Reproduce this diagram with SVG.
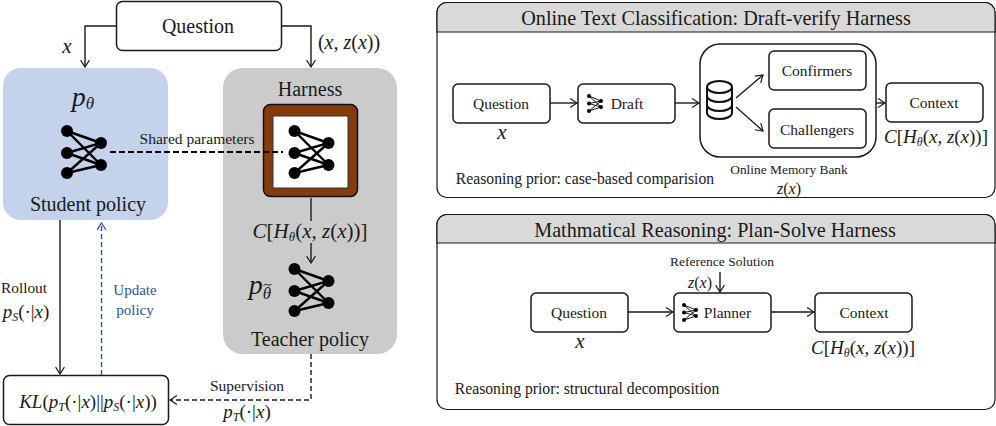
<svg xmlns="http://www.w3.org/2000/svg" width="996" height="426" viewBox="0 0 996 426">
<style>
text{font-family:"Liberation Serif","Times New Roman",serif;fill:#1a1a1a;text-anchor:middle}
.m{font-style:italic}
.u{font-style:normal}
.b{fill:#fff;stroke:#1a1a1a;stroke-width:1.5}
.c{fill:none;stroke:#1a1a1a;stroke-width:1.4}
.t20{font-size:20px}
.t15{font-size:15.500px}
.t14{font-size:15.500px}
.n circle{fill:#000}
.n path{fill:none;stroke:#000;stroke-width:2.4}
.i circle{fill:#000}
.i path{fill:none;stroke:#000;stroke-width:.9}
</style>
<defs>
<marker id="a" viewBox="0 0 12 12" refX="10.5" refY="6" markerWidth="11" markerHeight="11" markerUnits="userSpaceOnUse" orient="auto"><path d="M3 1.2L10.5 6L3 10.8" fill="none" stroke="#1a1a1a" stroke-width="1.3"/></marker>
<marker id="ab" viewBox="0 0 12 12" refX="10.5" refY="6" markerWidth="11" markerHeight="11" markerUnits="userSpaceOnUse" orient="auto"><path d="M3 1.2L10.5 6L3 10.8" fill="none" stroke="#2F5597" stroke-width="1.3"/></marker>
<g id="net" class="n">
<path d="M0 0L34 12L0 22M0 0L34 34M0 22L34 34M0 42L34 12M0 42L34 34"/>
<circle cx="0" cy="0" r="6"/><circle cx="0" cy="22" r="6"/><circle cx="0" cy="42" r="6"/><circle cx="34" cy="12" r="6"/><circle cx="34" cy="34" r="6"/>
</g>
<g id="ico" class="i">
<path d="M0 0L12 5M0 0L12 11M0 7.5L12 5M0 7.5L12 11M0 15L12 5M0 15L12 11"/>
<circle cx="0" cy="0" r="2"/><circle cx="0" cy="7.500" r="2"/><circle cx="0" cy="15" r="2"/><circle cx="12" cy="5" r="2"/><circle cx="12" cy="11" r="2"/>
</g>
</defs>

<g id="student"><rect x="3" y="68" width="165" height="152" rx="18" fill="#C4D2EC"/>
<text x="83" y="106" font-size="28" class="m">p<tspan font-size="17" dy="3">θ</tspan></text>
<use href="#net" x="67" y="131"/>
<text x="88" y="211" class="t20">Student policy</text></g>

<g id="harness"><rect x="223" y="68" width="174" height="286" rx="20" fill="#CBCBCB"/>
<text x="310" y="96" class="t20">Harness</text>
<rect x="263.500" y="104.500" width="94" height="92" rx="7" fill="#843C0C" stroke="#111" stroke-width="1.5"/>
<rect x="273" y="116" width="75" height="72" fill="#fff" stroke="#333" stroke-width="1"/>
<use href="#net" x="294.500" y="131"/>
</g>
<g id="teacher">
<use href="#net" x="294.500" y="269"/>
<text x="260" y="294" font-size="28" class="m">p<tspan font-size="17" dy="5">θ</tspan></text>
<path d="M263.500 285.500q2-2 4-.7t4-.7" fill="none" stroke="#1a1a1a" stroke-width="1"/>
<text x="310" y="346" class="t20">Teacher policy</text></g>

<g id="question"><rect class="b" x="116.500" y="1.500" width="165" height="49" rx="6"/><text x="198" y="33" class="t20">Question</text></g>
<g id="kl"><rect class="b" x="3.500" y="375.500" width="165" height="49" rx="6"/><text x="88" y="408" font-size="19" class="m">KL<tspan class="u">(</tspan>p<tspan font-size="12" dy="3">T</tspan><tspan class="u" dy="-3">(·|</tspan>x<tspan class="u">)||</tspan>p<tspan font-size="12" dy="3">S</tspan><tspan class="u" dy="-3">(·|</tspan>x<tspan class="u">))</tspan></text></g>

<g id="panel1">
<rect x="437" y="2.500" width="558" height="195" rx="10" fill="#fff" stroke="#1a1a1a" stroke-width="1.2"/>
<path d="M437 32V12.500a10 10 0 0 1 10-10H985a10 10 0 0 1 10 10V32Z" fill="#D9D9D9" stroke="#1a1a1a" stroke-width="1.200"/>
<text x="716" y="25" class="t20" style="font-size:20.200px">Online Text Classification: Draft-verify Harness</text>
<text x="585" y="184" style="font-size:15.700px">Reasoning prior: case-based comparision</text>
<text x="789" y="174" font-size="13.400">Online Memory Bank</text>
<text x="789" y="194" font-size="16" class="m">z<tspan class="u">(</tspan>x<tspan class="u">)</tspan></text>
<text x="502" y="139" font-size="21" class="m">x</text>
<text x="936" y="143" font-size="19" class="m">C<tspan class="u">[</tspan>H<tspan font-size="12" dy="3">θ</tspan><tspan class="u" dy="-3">(</tspan>x, z<tspan class="u">(</tspan>x<tspan class="u">))]</tspan></text>
</g>
<g id="p1-question"><rect class="b" x="453" y="84" width="97" height="39" rx="5"/><text x="501" y="109" class="t15">Question</text></g>
<g id="p1-draft"><rect class="b" x="578" y="84" width="97" height="39" rx="5"/><use href="#ico" x="589" y="96"/><text x="627" y="109" class="t15">Draft</text></g>
<g id="p1-memory"><rect class="b" x="700" y="44" width="176" height="113" rx="20"/>
<g fill="none" stroke="#111" stroke-width="2"><ellipse cx="719.500" cy="87" rx="12.500" ry="6"/><path d="M707 87V113a12.500 6 0 0 0 25 0V87M707 96a12.500 6 0 0 0 25 0M707 105a12.500 6 0 0 0 25 0"/></g></g>
<g id="p1-confirmers"><rect class="b" x="769" y="51" width="97" height="39" rx="5"/><text x="817" y="76" class="t15">Confirmers</text></g>
<g id="p1-challengers"><rect class="b" x="769" y="109" width="97" height="39" rx="5"/><text x="817" y="135" class="t15">Challengers</text></g>
<g id="p1-context"><rect class="b" x="886" y="83" width="97" height="39" rx="5"/><text x="934" y="108" class="t15">Context</text></g>

<g id="panel2">
<rect x="437" y="214.500" width="558" height="195" rx="10" fill="#fff" stroke="#1a1a1a" stroke-width="1.2"/>
<path d="M437 243V224.500a10 10 0 0 1 10-10H985a10 10 0 0 1 10 10V243Z" fill="#D9D9D9" stroke="#1a1a1a" stroke-width="1.200"/>
<text x="715" y="237" class="t20" style="font-size:20.200px">Mathmatical Reasoning: Plan-Solve Harness</text>
<text x="587" y="394" style="font-size:15.700px">Reasoning prior: structural decomposition</text>
<text x="722" y="266" font-size="13.500">Reference Solution</text>
<text x="700" y="288" font-size="16" class="m">z<tspan class="u">(</tspan>x<tspan class="u">)</tspan></text>
<text x="580" y="348" font-size="21" class="m">x</text>
<text x="863" y="354" font-size="19" class="m">C<tspan class="u">[</tspan>H<tspan font-size="12" dy="3">θ</tspan><tspan class="u" dy="-3">(</tspan>x, z<tspan class="u">(</tspan>x<tspan class="u">))]</tspan></text>
</g>
<g id="p2-question"><rect class="b" x="531" y="293" width="97" height="39" rx="5"/><text x="579" y="318" class="t15">Question</text></g>
<g id="p2-planner"><rect class="b" x="674" y="293" width="97" height="39" rx="5"/><use href="#ico" x="684" y="305"/><text x="727.500" y="318" class="t15">Planner</text></g>
<g id="p2-context"><rect class="b" x="815" y="293" width="97" height="39" rx="5"/><text x="864" y="318" class="t15">Context</text></g>

<g id="connectors">
<path class="c" d="M116 26H85V67" marker-end="url(#a)"/>
<path class="c" d="M281 26H311V67" marker-end="url(#a)"/>
<path class="c" d="M110 152H283" style="stroke:#000;stroke-width:2;stroke-dasharray:6 3"/>
<path class="c" d="M311 198V221"/>
<path class="c" d="M311 243V263" marker-end="url(#a)"/>
<path class="c" d="M60 220V374" marker-end="url(#a)"/>
<path class="c" d="M101.500 375V223" style="stroke:#2F5597;stroke-dasharray:5 3" marker-end="url(#ab)"/>
<path class="c" d="M311 354V400H170" style="stroke-dasharray:5 3" marker-end="url(#a)"/>
<path class="c" d="M550 103H577" marker-end="url(#a)"/>
<path class="c" d="M675 103H699" marker-end="url(#a)"/>
<path class="c" d="M736 98L763 75" marker-end="url(#a)"/>
<path class="c" d="M736 107L763 131" marker-end="url(#a)"/>
<path class="c" d="M876 103H885" marker-end="url(#a)"/>
<path class="c" d="M628 312H673" marker-end="url(#a)"/>
<path class="c" d="M771 312H814" marker-end="url(#a)"/>
<path class="c" d="M720 272V292" marker-end="url(#a)"/>
</g>

<g id="labels">
<text x="67" y="53" font-size="21" class="m">x</text>
<text x="349" y="49" font-size="20" class="m"><tspan class="u">(</tspan>x, z<tspan class="u">(</tspan>x<tspan class="u">))</tspan></text>
<text x="197" y="144" class="t14">Shared parameters</text>
<text x="310" y="238" font-size="21" class="m">C<tspan class="u">[</tspan>H<tspan font-size="13" dy="3">θ</tspan><tspan class="u" dy="-3">(</tspan>x, z<tspan class="u">(</tspan>x<tspan class="u">))]</tspan></text>
<text x="24" y="293" style="font-size:15.300px">Rollout</text>
<text x="26" y="318" font-size="19" class="m">p<tspan font-size="12" dy="3">S</tspan><tspan class="u" dy="-3">(·|</tspan>x<tspan class="u">)</tspan></text>
<text x="135" y="295" style="fill:#2F5597;font-size:15px">Update</text>
<text x="135" y="315" style="fill:#2F5597;font-size:15px">policy</text>
<text x="247" y="391" class="t14">Supervision</text>
<text x="247" y="418" font-size="19" class="m">p<tspan font-size="12" dy="3">T</tspan><tspan class="u" dy="-3">(·|</tspan>x<tspan class="u">)</tspan></text>
</g>
</svg>
